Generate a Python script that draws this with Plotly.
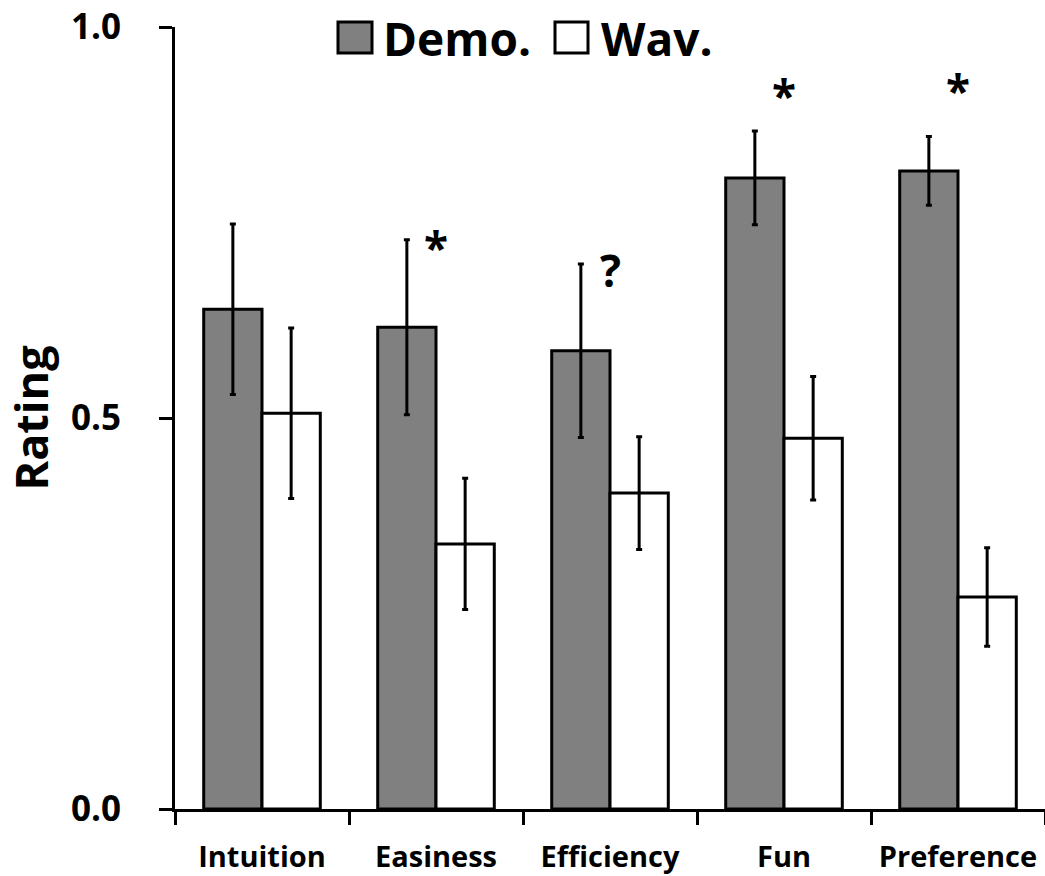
import plotly.graph_objects as go

categories = ["Intuition", "Easiness", "Efficiency", "Fun", "Preference"]
demo_vals = [0.639, 0.616, 0.586, 0.807, 0.816]
demo_err = [0.109, 0.112, 0.111, 0.060, 0.044]
wav_vals = [0.506, 0.339, 0.404, 0.474, 0.271]
wav_err = [0.109, 0.084, 0.072, 0.079, 0.063]
marks = ["", "*", "?", "*", "*"]
mark_y = [None, 0.719, 0.689, 0.913, 0.920]
series_names = ["Demo.", "Wav."]
y_ticks = [0.0, 0.5, 1.0]
y_ticklabels = ["0.0", "0.5", "1.0"]

FONT = "Open Sans"
fig = go.Figure()
fig.add_trace(go.Bar(
    x=categories, y=demo_vals, name=series_names[0],
    marker=dict(color="#808080", line=dict(color="black", width=3)),
    error_y=dict(type="data", array=demo_err, color="black", thickness=3, width=3),
    showlegend=False,
))
fig.add_trace(go.Bar(
    x=categories, y=wav_vals, name=series_names[1],
    marker=dict(color="white", line=dict(color="black", width=3)),
    error_y=dict(type="data", array=wav_err, color="black", thickness=3, width=3),
    showlegend=False,
))

annotations = []
for c, m, my in zip(categories, marks, mark_y):
    if m:
        sz = 44
        annotations.append(dict(x=c, y=my, xref="x", yref="y", text=f"<b>{m}</b>",
                                showarrow=False, font=dict(family=FONT, size=sz, color="black"),
                                yanchor="middle"))

# manual legend
shapes = [
    dict(type="rect", xref="paper", yref="paper", x0=(338-175)/870, x1=(372-175)/870,
         y0=(809-53)/782, y1=(809-22)/782, fillcolor="#808080", line=dict(color="black", width=3)),
    dict(type="rect", xref="paper", yref="paper", x0=(555-175)/870, x1=(588-175)/870,
         y0=(809-53)/782, y1=(809-22)/782, fillcolor="white", line=dict(color="black", width=3)),
]
annotations.append(dict(x=(381-175)/870, y=(809-38)/782, xref="paper", yref="paper",
                        text="<b>" + series_names[0] + "</b>", showarrow=False, xanchor="left",
                        yanchor="middle", font=dict(family=FONT, size=46, color="black")))
annotations.append(dict(x=(599-175)/870, y=(809-38)/782, xref="paper", yref="paper",
                        text="<b>" + series_names[1] + "</b>", showarrow=False, xanchor="left",
                        yanchor="middle", font=dict(family=FONT, size=46, color="black")))

fig.update_layout(
    width=1045, height=876,
    margin=dict(l=175, r=0, t=27, b=67),
    paper_bgcolor="white", plot_bgcolor="white",
    barmode="group", bargap=0.33, bargroupgap=0,
    font=dict(family=FONT, color="black"),
    shapes=shapes, annotations=annotations,
    xaxis=dict(
        tickson="boundaries", ticks="outside", ticklen=13, tickwidth=3, tickcolor="black",
        showline=True, linecolor="black", linewidth=3, showgrid=False,
        tickfont=dict(family=FONT, size=29, color="black"),
        tickprefix="<b>", ticksuffix="</b>", range=[-0.5, 4.5],
        ticklabelstandoff=20,
    ),
    yaxis=dict(
        range=[0, 1], tickvals=y_ticks, ticktext=["<b>%s</b>" % t for t in y_ticklabels],
        ticks="outside", ticklen=13, tickwidth=3, tickcolor="black",
        showline=True, linecolor="black", linewidth=3, showgrid=False, zeroline=False,
        tickfont=dict(family=FONT, size=35, color="black"),
        ticklabelstandoff=31,
        title=dict(text="<b>Rating</b>", font=dict(family=FONT, size=45, color="black"), standoff=16),
    ),
)

fig.write_html("out.html")
